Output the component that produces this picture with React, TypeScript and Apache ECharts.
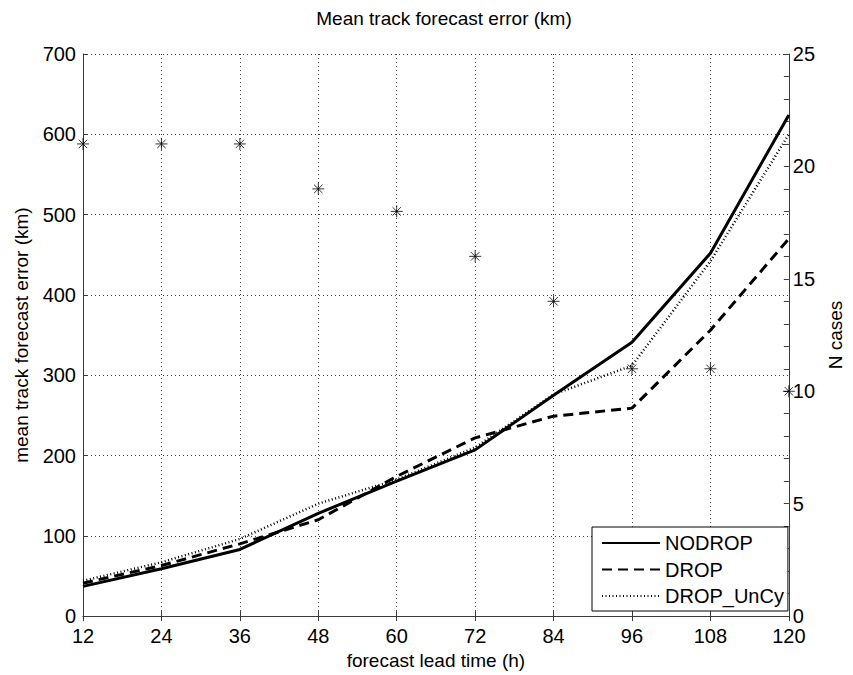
import React, { useEffect, useRef } from "react";
import * as echarts from "echarts";

const leadTimes = [12, 24, 36, 48, 60, 72, 84, 96, 108, 120];
const nodrop = [37, 59, 83, 128, 168, 207, 275, 341, 452, 624];
const drop = [41, 63, 90, 120, 174, 222, 249, 259, 356, 470];
const dropUnCy = [44, 67, 96, 140, 170, 210, 276, 312, 442, 600];
const nCases = [21, 21, 21, 19, 18, 16, 14, 11, 11, 10];

const FONT = "Liberation Sans, Arial, Helvetica, sans-serif";
const AX = "#3a3a3a";

export default function App() {
  const ref = useRef<HTMLDivElement>(null);
  useEffect(() => {
    if (!ref.current) return;
    const chart = echarts.init(ref.current, null, { renderer: "svg" });
    const pair = (arr: number[]) => leadTimes.map((t, i) => [t, arr[i]]);
    chart.setOption({
      animation: false,
      backgroundColor: "#fff",
      textStyle: { fontFamily: FONT, color: "#000" },
      title: {
        text: "Mean track forecast error (km)",
        left: 439,
        top: 4,
        textAlign: "center",
        textStyle: { fontFamily: FONT, fontSize: 19, fontWeight: "normal", color: "#000" },
      },
      grid: { left: 83, right: 56, top: 54, bottom: 56, containLabel: false },
      legend: {
        orient: "vertical",
        left: 592,
        top: 527,
        padding: [6, 4, 5, 9],
        itemWidth: 58,
        itemHeight: 14,
        itemGap: 6.5,
        backgroundColor: "#fff",
        borderColor: "#000",
        borderWidth: 1,
        itemStyle: { opacity: 0 },
        textStyle: { fontFamily: FONT, fontSize: 20, color: "#000", lineHeight: 20 },
        data: ["NODROP", "DROP", "DROP_UnCy"],
      },
      xAxis: [
        {
          type: "value",
          min: 12,
          max: 120,
          interval: 12,
          name: "forecast lead time (h)",
          nameLocation: "middle",
          nameGap: 32,
          nameTextStyle: { fontFamily: FONT, fontSize: 19, color: "#000" },
          axisLine: { show: true, lineStyle: { color: AX, width: 1 } },
          axisTick: { show: true, inside: true, length: 5, lineStyle: { color: AX } },
          axisLabel: { fontFamily: FONT, fontSize: 20, color: "#000", margin: 10 },
          splitLine: { show: true, lineStyle: { color: "#444", type: [1, 3], width: 1 } },
        },
        {
          type: "value",
          position: "top",
          min: 12,
          max: 120,
          interval: 12,
          axisLine: { show: true, lineStyle: { color: AX, width: 1 } },
          axisTick: { show: true, inside: true, length: 5, lineStyle: { color: AX } },
          axisLabel: { show: false },
          splitLine: { show: false },
        },
      ],
      yAxis: [
        {
          type: "value",
          min: 0,
          max: 700,
          interval: 100,
          name: "mean track forecast error (km)",
          nameLocation: "middle",
          nameGap: 52,
          nameTextStyle: { fontFamily: FONT, fontSize: 19, color: "#000" },
          axisLine: { show: true, lineStyle: { color: AX, width: 1 } },
          axisTick: { show: true, inside: true, length: 5, lineStyle: { color: AX } },
          axisLabel: { fontFamily: FONT, fontSize: 20, color: "#000", margin: 7 },
          splitLine: { show: true, lineStyle: { color: "#444", type: [1, 3], width: 1 } },
        },
        {
          type: "value",
          position: "right",
          min: 0,
          max: 25,
          interval: 5,
          name: "N cases",
          nameLocation: "middle",
          nameGap: 37,
          nameTextStyle: { fontFamily: FONT, fontSize: 19, color: "#000" },
          axisLine: { show: true, lineStyle: { color: AX, width: 1 } },
          axisTick: { show: true, inside: true, length: 5, lineStyle: { color: AX } },
          minorTick: { show: true, splitNumber: 5, length: 5, lineStyle: { color: AX } },
          axisLabel: { fontFamily: FONT, fontSize: 20, color: "#000", margin: 4 },
          splitLine: { show: false },
        },
      ],
      series: [
        {
          name: "NODROP",
          type: "line",
          data: pair(nodrop),
          symbol: "none",
          lineStyle: { color: "#000", width: 3, type: "solid" },
          itemStyle: { color: "#000" },
          z: 5,
        },
        {
          name: "DROP",
          type: "line",
          data: pair(drop),
          symbol: "none",
          lineStyle: { color: "#000", width: 3, type: [10, 6] },
          itemStyle: { color: "#000" },
          z: 4,
        },
        {
          name: "DROP_UnCy",
          type: "line",
          data: pair(dropUnCy),
          symbol: "none",
          lineStyle: { color: "#000", width: 2.5, type: [1, 2.5] },
          itemStyle: { color: "#000" },
          z: 3,
        },
        {
          name: "N cases",
          type: "scatter",
          yAxisIndex: 1,
          data: pair(nCases),
          symbol: "path://M5 0 L5 10 M0 5 L10 5 M1.5 1.5 L8.5 8.5 M1.5 8.5 L8.5 1.5",
          symbolSize: 12,
          itemStyle: { color: "transparent", borderColor: "#000", borderWidth: 1 },
          z: 6,
        },
      ],
    });
    return () => chart.dispose();
  }, []);
  return (
    <div
      ref={ref}
      style={{ position: "absolute", left: 0, top: 0, width: 853, height: 675 }}
    />
  );
}
